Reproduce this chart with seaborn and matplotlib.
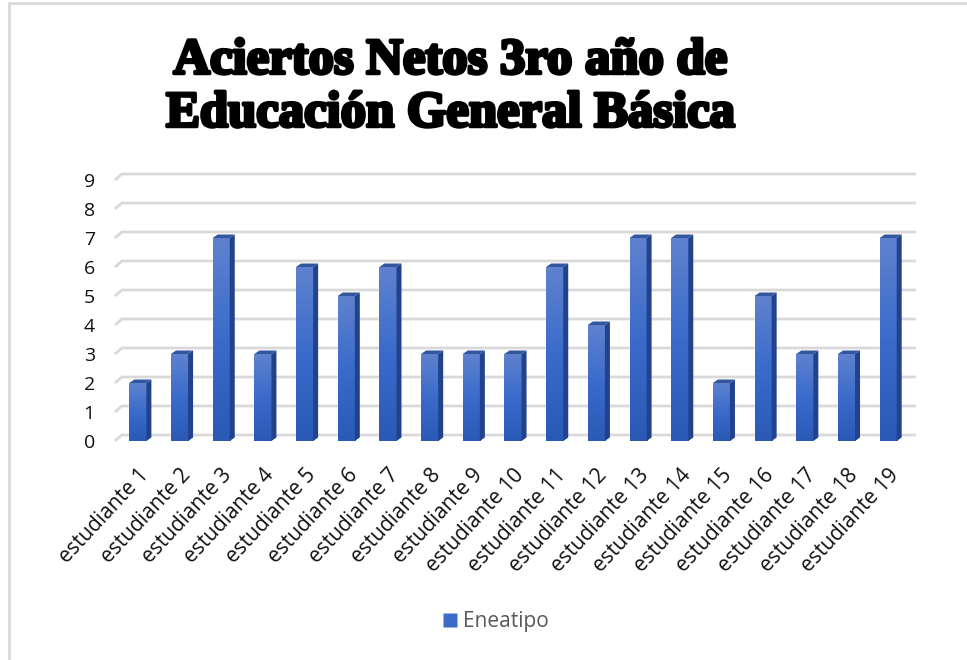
import numpy as np
import pandas as pd
import matplotlib.pyplot as plt
import seaborn as sns
import matplotlib.patheffects as pe
from matplotlib.patches import Polygon
from matplotlib.lines import Line2D

# data
estudiantes = ["estudiante 1", "estudiante 2", "estudiante 3", "estudiante 4",
               "estudiante 5", "estudiante 6", "estudiante 7", "estudiante 8",
               "estudiante 9", "estudiante 10", "estudiante 11", "estudiante 12",
               "estudiante 13", "estudiante 14", "estudiante 15", "estudiante 16",
               "estudiante 17", "estudiante 18", "estudiante 19"]
aciertos = [2, 3, 7, 3, 6, 5, 6, 3, 3, 3, 6, 4, 7, 7, 2, 5, 3, 3, 7]
y_ticks = list(range(0, 10))
serie = "Eneatipo"

df = pd.DataFrame({"estudiante": estudiantes, "aciertos": aciertos})

W, H = 967, 660
fig = plt.figure(figsize=(W / 100, H / 100), dpi=100)
sns.set_style("white")
plt.rcParams["font.family"] = ["Open Sans", "DejaVu Sans"]

ax = fig.add_axes([117 / W, 219 / H, 792 / W, 261 / H])
sns.barplot(data=df, x="estudiante", y="aciertos", color="#3d6cc7",
            saturation=1, width=0.41, ax=ax, zorder=3)
ax.set_xlim(-0.5, len(estudiantes) - 0.5)
ax.set_ylim(0, 9)
ax.set_xlabel("")
ax.set_ylabel("")
for s in ax.spines.values():
    s.set_visible(False)

# pixel -> data conversions for the fake 3D depth
px_x = 792 / len(estudiantes)
px_y = 261 / 9
dxb, dyb = 5 / px_x, 3.5 / px_y     # bar depth
dxg, dyg = 7 / px_x, 6 / px_y       # grid depth

x0, x1 = ax.get_xlim()
for v in y_ticks:
    ax.plot([x0 - 0.05, x0 - 0.05 + dxg, x1 + dxg], [v, v + dyg, v + dyg],
            color="#d9d9d9", lw=2, clip_on=False, zorder=0,
            solid_capstyle="butt")

grad = np.linspace(0, 1, 256).reshape(-1, 1)
cmap = sns.blend_palette(["#2a59b6", "#3a6bcb", "#5f82cf"], as_cmap=True)
for bar in list(ax.patches):
    x, w, h = bar.get_x(), bar.get_width(), bar.get_height()
    im = ax.imshow(grad, cmap=cmap, aspect="auto", origin="lower",
                   extent=[x, x + w, 0, h], zorder=3)
    im.set_clip_path(bar)
    side = Polygon([(x + w, 0), (x + w + dxb, dyb), (x + w + dxb, h + dyb), (x + w, h)],
                   closed=True, facecolor="#22438c", edgecolor="none", zorder=3)
    top = Polygon([(x, h), (x + dxb, h + dyb), (x + w + dxb, h + dyb), (x + w, h)],
                  closed=True, facecolor="#34569f", edgecolor="none", zorder=3)
    ax.add_patch(side)
    ax.add_patch(top)
ax.set_xlim(x0, x1)
ax.set_ylim(0, 9)

ax.set_yticks(y_ticks)
ax.set_yticklabels([str(v) for v in y_ticks], fontsize=14, color="#111111")
ax.tick_params(axis="y", length=0, pad=16)
ax.set_xticks(range(len(estudiantes)))
ax.set_xticklabels(estudiantes, rotation=47, ha="right", rotation_mode="anchor",
                   fontsize=15, color="#111111")
ax.tick_params(axis="x", length=0, pad=17)

# title
fig.text(451 / W, 1 - 88 / H, "Aciertos Netos 3ro año de\nEducación General Básica",
         ha="center", va="center", fontsize=36.5, fontweight="bold", color="black",
         family=["Liberation Serif", "DejaVu Serif"], linespacing=1.2,
         path_effects=[pe.withStroke(linewidth=2.5, foreground="black")])

# legend
handle = Line2D([], [], marker="s", linestyle="none", markersize=10,
                markerfacecolor="#3d6cc7", markeredgecolor="none")
leg = fig.legend([handle], [serie], loc="center", bbox_to_anchor=(494 / W, 1 - 622 / H),
                 frameon=False, fontsize=15, handletextpad=0.1, handlelength=1.0)
for t in leg.get_texts():
    t.set_color("#595959")

# chart border (only the top and left edges show in the reference)
fig.add_artist(Line2D([9 / W, 9 / W], [0, 1 - 3 / H], transform=fig.transFigure,
                      color="#d9d9d9", lw=2))
fig.add_artist(Line2D([9 / W, 1], [1 - 3 / H, 1 - 3 / H], transform=fig.transFigure,
                      color="#d9d9d9", lw=2))

fig.savefig("out.png", dpi=100)
